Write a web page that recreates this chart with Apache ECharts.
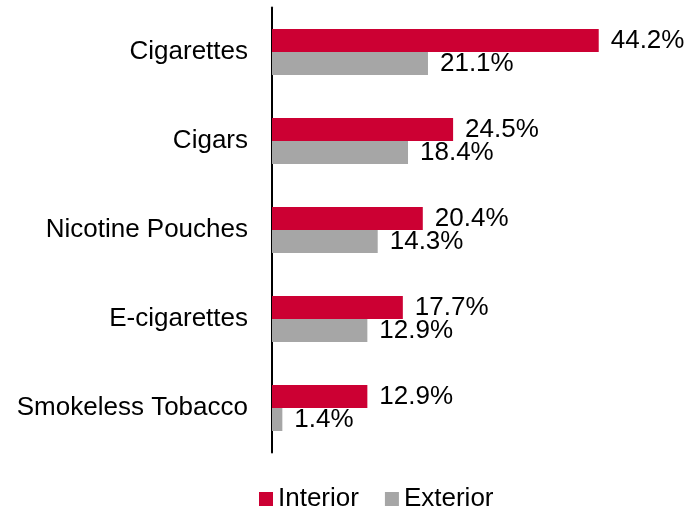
<!DOCTYPE html>
<html>
<head>
<meta charset="utf-8">
<script src="https://cdn.jsdelivr.net/npm/echarts@6/dist/echarts.min.js"></script>
<style>
  html, body { margin: 0; padding: 0; background: #fff; }
  #chart { width: 691px; height: 508px; }
</style>
</head>
<body>
<div id="chart"></div>
<script>
// Share of products, by category
const categories = ['Cigarettes', 'Cigars', 'Nicotine Pouches', 'E-cigarettes', 'Smokeless Tobacco'];
const interiorValues = [44.2, 24.5, 20.4, 17.7, 12.9];
const exteriorValues = [21.1, 18.4, 14.3, 12.9, 1.4];
const seriesNames = ['Interior', 'Exterior'];

const FONT = '"Liberation Sans", Arial, sans-serif';
const TEXT_COLOR = '#000';

const chart = echarts.init(document.getElementById('chart'), null, { renderer: 'canvas' });

const pctLabel = {
  show: true,
  position: 'right',
  distance: 12,
  fontFamily: FONT,
  fontSize: 26,
  color: TEXT_COLOR,
  formatter: p => p.value.toFixed(1) + '%'
};

chart.setOption({
  animation: false,
  backgroundColor: '#fff',
  grid: { left: 272, right: 49.4, top: 7.5, bottom: 55.5, containLabel: false },
  legend: {
    left: 254,
    top: 481,
    itemWidth: 14,
    itemHeight: 14,
    itemGap: 26,
    icon: 'rect',
    textStyle: { fontFamily: FONT, fontSize: 26, color: TEXT_COLOR },
    data: seriesNames
  },
  xAxis: {
    type: 'value',
    min: 0,
    max: 50,
    show: false
  },
  yAxis: {
    type: 'category',
    data: categories,
    inverse: true,
    axisLine: { show: true, lineStyle: { color: '#000', width: 2 } },
    axisTick: { show: false },
    axisLabel: { margin: 24, fontFamily: FONT, fontSize: 26, color: TEXT_COLOR }
  },
  series: [
    {
      name: seriesNames[0],
      type: 'bar',
      data: interiorValues,
      barWidth: 23,
      barGap: '0%',
      itemStyle: { color: '#CC0033' },
      label: pctLabel
    },
    {
      name: seriesNames[1],
      type: 'bar',
      data: exteriorValues,
      barWidth: 23,
      barGap: '0%',
      itemStyle: { color: '#A6A6A6' },
      label: pctLabel
    }
  ]
});
</script>
</body>
</html>
